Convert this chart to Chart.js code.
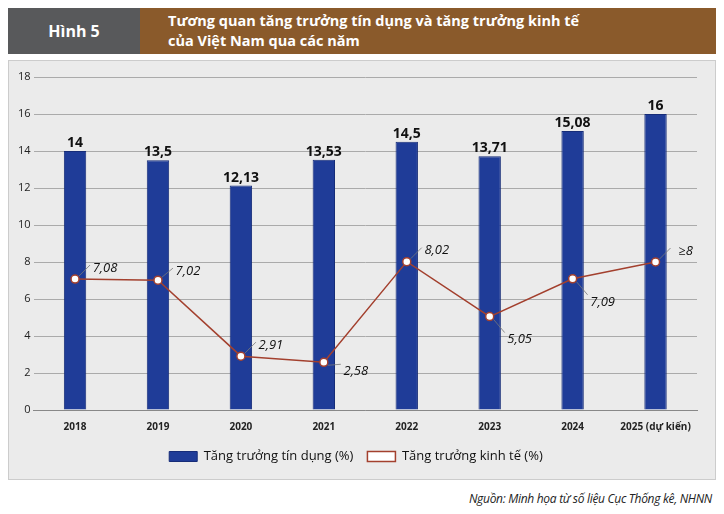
<!DOCTYPE html>
<html><head><meta charset="utf-8">
<script src="https://cdn.jsdelivr.net/npm/chart.js@4.4.0/dist/chart.umd.min.js"></script>
<style>
body{margin:0;width:724px;height:514px;background:#fff;font-family:"Open Sans",sans-serif;position:relative;overflow:hidden}
#h1{position:absolute;left:8px;top:8px;width:132px;height:46px;background:#58595b;color:#fff;font-weight:bold;font-size:16px;line-height:46px;text-align:center}
#h2{position:absolute;left:140px;top:8px;width:576px;height:46px;background:#8a5a2b;color:#fff;font-weight:bold;font-size:14.5px;line-height:20px;padding:3px 0 0 28px;box-sizing:border-box}
#panel{position:absolute;left:8px;top:60px;width:708px;height:420px;background:#ebebeb;border:1px solid #ccc;box-sizing:border-box}
#src{position:absolute;right:12px;top:490px;font-style:italic;font-size:12px;color:#222;font-family:"Open Sans";letter-spacing:-0.3px}
</style></head><body>
<div id="h1">Hình 5</div>
<div id="h2">Tương quan tăng trưởng tín dụng và tăng trưởng kinh tế<br>của Việt Nam qua các năm</div>
<div id="panel"><canvas id="c" width="706" height="418"></canvas></div>
<div id="src">Nguồn: Minh họa từ số liệu Cục Thống kê, NHNN</div>
<script>
const years = ['2018','2019','2020','2021','2022','2023','2024','2025 (dự kiến)'];
const credit = [14, 13.5, 12.13, 13.53, 14.5, 13.71, 15.08, 16];
const creditLabels = ['14','13,5','12,13','13,53','14,5','13,71','15,08','16'];
const gdp = [7.08, 7.02, 2.91, 2.58, 8.02, 5.05, 7.09, 8];
const gdpLabels = ['7,08','7,02','2,91','2,58','8,02','5,05','7,09','≥8'];
const gdpOffsets = [[30,-16],[30,-14],[30,-16],[32,4],[30,-16],[30,18],[30,18],[30,-16]];

const labelPlugin = {
  id: 'labels',
  afterDatasetsDraw(chart) {
    const ctx = chart.ctx;
    ctx.save();
    ctx.textAlign = 'center';
    ctx.fillStyle = '#111';
    ctx.font = 'bold 14px "Open Sans"';
    chart.getDatasetMeta(0).data.forEach((b, i) => {
      ctx.fillText(creditLabels[i], b.x, b.y - 8);
    });
    ctx.font = 'italic 13px "Open Sans"';
    chart.getDatasetMeta(1).data.forEach((p, i) => {
      const [dx, dy] = gdpOffsets[i];
      ctx.strokeStyle = '#777';
      ctx.lineWidth = 0.8;
      ctx.beginPath(); ctx.moveTo(p.x + 4, p.y + (dy < 0 ? -3 : 3)); ctx.lineTo(p.x + dx - 15, p.y + dy + (dy < 0 ? 2 : -2)); ctx.stroke();
      ctx.fillText(gdpLabels[i], p.x + dx, p.y + dy + 5);
    });
    ctx.restore();
  }
};

new Chart(document.getElementById('c'), {
  data: {
    labels: years,
    datasets: [
      { type: 'bar', label: 'Tăng trưởng tín dụng (%)', data: credit, backgroundColor: '#1f3c98', borderColor: '#162c78', borderWidth: 1, barPercentage: 0.27, categoryPercentage: 1, order: 2 },
      { type: 'line', label: 'Tăng trưởng kinh tế (%)', data: gdp, borderColor: '#a3402e', backgroundColor: '#fff', borderWidth: 1.5, pointBackgroundColor: '#fff', pointBorderColor: '#a3402e', pointRadius: 4, pointBorderWidth: 1.5, order: 1 }
    ]
  },
  options: {
    responsive: false, animation: false,
    layout: { padding: { top: 16, right: 18, left: 6, bottom: 6 } },
    scales: {
      y: { min: 0, max: 18, ticks: { stepSize: 2, color: '#222', font: { size: 11, family: 'Open Sans' } }, grid: { color: '#aaa', borderDash: [3, 3], drawTicks: false }, border: { display: false } },
      x: { ticks: { color: '#222', font: { size: 10, weight: 'bold', family: 'Open Sans' } }, grid: { display: false }, border: { color: '#888' } }
    },
    plugins: {
      legend: { position: 'bottom', labels: { color: '#111', font: { size: 13, family: 'Open Sans' }, boxWidth: 28, boxHeight: 10, padding: 14,
        sort: (a, b) => a.datasetIndex - b.datasetIndex } },
      tooltip: { enabled: false }
    }
  },
  plugins: [labelPlugin]
});
</script>
</body></html>
